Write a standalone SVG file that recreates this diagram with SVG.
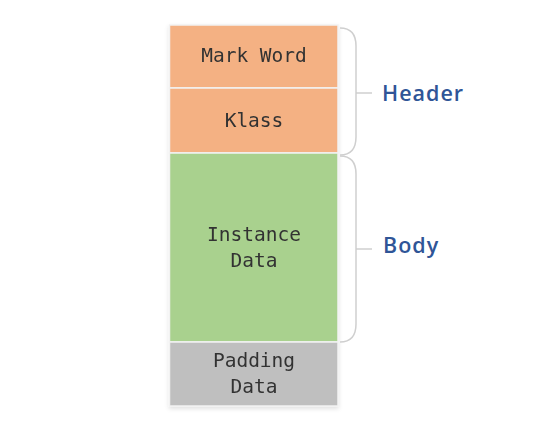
<svg xmlns="http://www.w3.org/2000/svg" width="542" height="426" viewBox="0 0 542 426">
<defs>
<style>
.cell{stroke:#f2f2f2;stroke-width:1.5}
.mono{font-family:"DejaVu Sans Mono","Liberation Mono",monospace;font-size:19.5px;fill:#333;text-anchor:middle}
.lbl{font-family:"Open Sans","Noto Sans","DejaVu Sans",sans-serif;font-size:21.5px;font-weight:600;fill:#2f5597;letter-spacing:1px}
.brace{fill:none;stroke:#cfcfcf;stroke-width:1.5}
</style>
<filter id="sh" x="-10%" y="-10%" width="120%" height="120%">
<feDropShadow dx="0" dy="2" stdDeviation="2" flood-color="#000" flood-opacity="0.12"/>
</filter>
</defs>
<rect width="542" height="426" fill="#fff"/>
<g filter="url(#sh)">
<g id="mark-word">
<rect class="cell" x="169.5" y="25" width="168.5" height="63" fill="#f4b183"/>
<text class="mono" x="254" y="62">Mark Word</text>
</g>
<g id="klass">
<rect class="cell" x="169.5" y="88" width="168.5" height="65" fill="#f4b183"/>
<text class="mono" x="254" y="127">Klass</text>
</g>
<g id="instance-data">
<rect class="cell" x="169.5" y="153" width="168.5" height="189" fill="#a9d18e"/>
<text class="mono" x="254" y="241">Instance</text>
<text class="mono" x="254" y="267">Data</text>
</g>
<g id="padding-data">
<rect class="cell" x="169.5" y="342" width="168.5" height="64" fill="#bfbfbf"/>
<text class="mono" x="254" y="367">Padding</text>
<text class="mono" x="254" y="393">Data</text>
</g>
</g>
<g id="connectors">
<path class="brace" d="M340,28 Q356,28 356,46 V137 Q356,155 340,155 M356,93 H372"/>
<path class="brace" d="M340,156 Q356,156 356,174 V324 Q356,342 340,342 M356,249 H372"/>
</g>
<g id="header">
<text class="lbl" x="382" y="101">Header</text>
</g>
<g id="body">
<text class="lbl" x="383" y="253">Body</text>
</g>
</svg>
